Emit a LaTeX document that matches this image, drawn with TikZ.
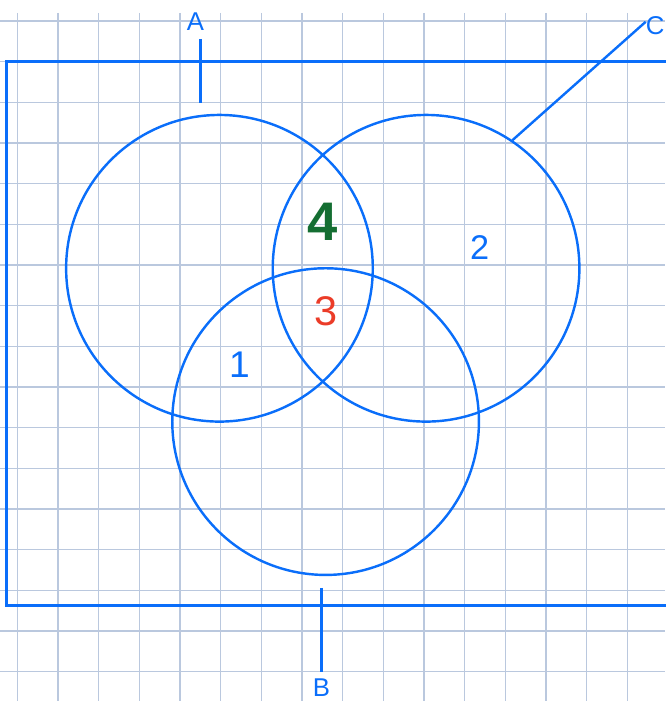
\documentclass[tikz,border=0pt]{standalone}
\usepackage{fontspec}
\setmainfont{Liberation Sans}
\definecolor{inkblue}{RGB}{10,110,250}
\definecolor{inkgreen}{RGB}{20,110,50}
\definecolor{inkred}{RGB}{235,60,40}
\definecolor{gridblue}{RGB}{186,200,222}
\tikzset{
  setcircle/.style={circle, draw=inkblue, line width=1.7pt, minimum size=7.54cm, inner sep=0pt},
  tagline/.style={inkblue, line width=1.7pt},
  tag/.style={inkblue, font=\fontsize{18}{20}\selectfont},
  count/.style={font=\fontsize{26}{28}\selectfont}
}
\begin{document}
\begin{tikzpicture}
    \useasboundingbox (-0.426,0.516) rectangle (15.93,-16.72);

    % squared paper
    \foreach \i in {0,...,15}
        \draw[gridblue, line width=0.9pt] (\i,0.2) -- (\i,-16.72);
    \foreach \j in {0,...,16}
        \draw[gridblue, line width=0.9pt] (-0.426,-\j) -- (15.93,-\j);

    % universe
    \draw[inkblue, line width=2.1pt] (16.5,-1) -- (-0.254,-1) -- (-0.254,-14.36) -- (16.5,-14.36);

    % sets
    \node[setcircle] (circA) at (4.97,-6.08) {};
    \node[setcircle] (circC) at (10.05,-6.08) {};
    \node[setcircle] (circB) at (7.58,-9.85) {};

    % set names
    \node[tag] (labA) at (4.38,-0.02) {A};
    \node[tag] (labB) at (7.48,-16.4) {B};
    \node[tag] (labC) at (15.68,-0.12) {C};
    \coordinate (topA) at (4.5,-0.44);
    \coordinate (endA) at (4.5,-2.02);
    \coordinate (topB) at (7.48,-13.94);
    \coordinate (endB) at (7.48,-16.0);
    \coordinate (endC) at (15.45,-0.02);
    \draw[tagline] (topA) -- (endA);
    \draw[tagline] (topB) -- (endB);
    \draw[tagline] (circC.56) -- (endC);

    % counts
    \node[count, inkgreen, font=\fontsize{38}{40}\selectfont\bfseries] (nfour) at (7.5,-4.94) {4};
    \node[count, inkred, font=\fontsize{29}{30}\selectfont] (nthree) at (7.6,-7.13) {3};
    \node[count, inkblue] (none) at (5.46,-8.46) {1};
    \node[count, inkblue, font=\fontsize{24}{26}\selectfont] (ntwo) at (11.37,-5.58) {2};
\end{tikzpicture}
\end{document}
